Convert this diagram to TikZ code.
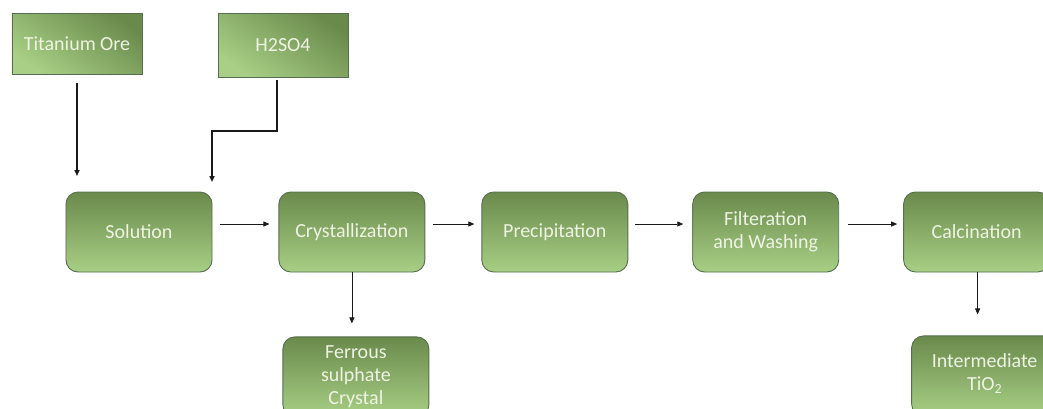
\documentclass[tikz,border=0pt]{standalone}
\usepackage{fontspec}
\setmainfont{Carlito}
\usepackage{tikz}
\usetikzlibrary{arrows.meta,positioning}
\definecolor{stepdark}{HTML}{6A8A4C}
\definecolor{steplight}{HTML}{A8CF85}
\definecolor{stepedge}{HTML}{566F4E}
\definecolor{steptext}{HTML}{EEF3E4}
\definecolor{flowink}{HTML}{1A1A1A}

\begin{document}
\begin{tikzpicture}[x=1bp,y=-1bp,
  process/.style={draw=stepedge,line width=.9bp,rounded corners=12bp,
    top color=stepdark,bottom color=steplight,minimum width=146bp,
    minimum height=80bp,align=center,text=steptext,
    font=\fontsize{20bp}{23bp}\selectfont},
  feed/.style={draw=stepedge,line width=.9bp,top color=stepdark,
    bottom color=steplight,shading angle=-35,minimum width=130bp,
    align=center,text=steptext,font=\fontsize{20bp}{23bp}\selectfont},
  link/.style={draw=flowink,line width=.8bp,-{Triangle[length=6bp,width=5bp]}},
  feedlink/.style={link,line width=1.6bp}
]
  \useasboundingbox (0,0) rectangle (1043,408);
  \clip (0,0) rectangle (1043,408);

  % raw materials
  \node[feed,minimum height=61bp] (ore) at (77,43.5) {Titanium Ore};
  \node[feed,minimum height=64bp] (acid) at (283,45) {H2SO4};

  % main line
  \node[process] (sol) at (139,232) {Solution};
  \node[process,right=66bp of sol] (cryst) {Crystallization};
  \node[process,right=56bp of cryst] (precip) {Precipitation};
  \node[process,right=64bp of precip] (filter) {Filteration\\and Washing};
  \node[process,right=64bp of filter] (calc) {Calcination};

  % products
  \node[process,below=64bp of cryst,xshift=4bp] (ferrous) {Ferrous\\sulphate\\Crystal};
  \node[process,below=63bp of calc,xshift=8bp,text depth=8bp] (inter) {Intermediate\\TiO\textsubscript{2}};

  \coordinate (oreIn) at (77,176);
  \coordinate (acidBend) at (277,131);
  \coordinate (acidIn) at (212,182);

  \draw[feedlink] ([yshift=-9bp]ore.south) -- (oreIn);
  \draw[feedlink] (acidBend |- acid.south) ++(0,3) -- (acidBend) -| (acidIn);

  \draw[link] ([xshift=8bp,yshift=8bp]sol.east) -- ([xshift=-9bp,yshift=8bp]cryst.west);
  \draw[link] ([xshift=8bp,yshift=8bp]cryst.east) -- ([xshift=-7bp,yshift=8bp]precip.west);
  \draw[link] ([xshift=7bp,yshift=8bp]precip.east) -- ([xshift=-9bp,yshift=8bp]filter.west);
  \draw[link] ([xshift=9bp,yshift=8bp]filter.east) -- ([xshift=-6bp,yshift=8bp]calc.west);

  \draw[link] (cryst.south) -- ([yshift=13bp]cryst.south |- ferrous.north);
  \draw[link] ([xshift=1bp]calc.south) -- ([xshift=1bp,yshift=21bp]calc.south |- inter.north);
\end{tikzpicture}
\end{document}
